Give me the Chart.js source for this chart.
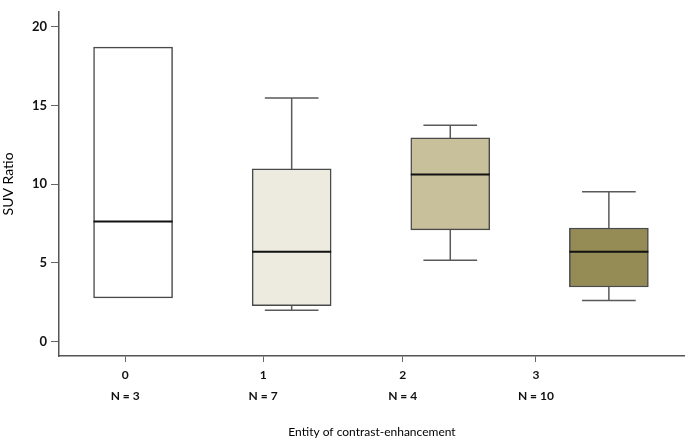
<!DOCTYPE html>
<html>
<head>
<meta charset="utf-8">
<script src="https://cdn.jsdelivr.net/npm/chart.js@4"></script>
<style>
  html, body { margin: 0; padding: 0; background: #fff; }
  #wrap { width: 685px; height: 441px; }
</style>
</head>
<body>
<div id="wrap"><canvas id="box"></canvas></div>
<script>
// values
const categories = ['0', '1', '2', '3'];
const nLabels = ['N = 3', 'N = 7', 'N = 4', 'N = 10'];
const whiskerLow = [2.77, 1.99, 5.16, 2.60];
const q1 = [2.77, 2.27, 7.09, 3.46];
const median = [7.62, 5.70, 10.61, 5.70];
const q3 = [18.70, 10.96, 12.93, 7.21];
const whiskerHigh = [18.70, 15.47, 13.73, 9.51];
const boxColors = ['#ffffff', '#edebe0', '#c8c09b', '#958c55'];

// the category labels sit a bit left of the boxes in the original
const tickAt = [-0.05, 0.82, 1.70, 2.54];

const FONT = 'Lato, "Open Sans", sans-serif';

// whiskers + median lines, drawn on top of the floating bars
const boxPlotPlugin = {
    id: 'boxPlot',
    afterDatasetsDraw: (chart) => {
        const { ctx, scales: { y } } = chart;
        const meta = chart.getDatasetMeta(0);
        ctx.save();
        meta.data.forEach((bar, i) => {
            const xc = bar.x;
            const half = bar.width / 2;
            const cap = bar.width * 0.34;
            ctx.strokeStyle = '#5a5a5a';
            ctx.lineWidth = 1.5;
            if (whiskerHigh[i] > q3[i]) {
                const yTop = y.getPixelForValue(whiskerHigh[i]);
                ctx.beginPath();
                ctx.moveTo(xc, y.getPixelForValue(q3[i]));
                ctx.lineTo(xc, yTop);
                ctx.moveTo(xc - cap, yTop);
                ctx.lineTo(xc + cap, yTop);
                ctx.stroke();
            }
            if (whiskerLow[i] < q1[i]) {
                const yBot = y.getPixelForValue(whiskerLow[i]);
                ctx.beginPath();
                ctx.moveTo(xc, y.getPixelForValue(q1[i]));
                ctx.lineTo(xc, yBot);
                ctx.moveTo(xc - cap, yBot);
                ctx.lineTo(xc + cap, yBot);
                ctx.stroke();
            }
            const yMed = y.getPixelForValue(median[i]);
            ctx.strokeStyle = '#111';
            ctx.lineWidth = 2;
            ctx.beginPath();
            ctx.moveTo(xc - half, yMed);
            ctx.lineTo(xc + half, yMed);
            ctx.stroke();
        });
        ctx.restore();
    }
};

const ctx = document.getElementById('box').getContext('2d');
new Chart(ctx, {
    type: 'bar',
    data: {
        datasets: [{
            data: categories.map((c, i) => ({ x: i, y: [q1[i], q3[i]] })),
            backgroundColor: boxColors,
            borderColor: '#4a4a4a',
            borderWidth: 1.5,
            borderSkipped: false,
            barThickness: 79
        }]
    },
    plugins: [boxPlotPlugin],
    options: {
        responsive: true,
        maintainAspectRatio: false,
        animation: false,
        layout: { padding: 0 },
        plugins: {
            legend: { display: false },
            tooltip: { enabled: false }
        },
        scales: {
            x: {
                type: 'linear',
                offset: false,
                min: -0.467,
                max: 3.48,
                afterBuildTicks: (axis) => {
                    axis.ticks = tickAt.map(v => ({ value: v }));
                },
                afterFit: (axis) => { axis.height = 85; },
                ticks: {
                    autoSkip: false,
                    maxRotation: 0,
                    padding: 3,
                    color: '#111',
                    font: { family: FONT, size: 12, weight: 'bold', lineHeight: 1.75 },
                    callback: (v, i) => [categories[i], nLabels[i]]
                },
                grid: {
                    offset: false,
                    drawOnChartArea: false,
                    drawTicks: true,
                    tickLength: 6,
                    color: '#666'
                },
                border: { display: true, color: '#555', width: 1.5 },
                title: {
                    display: true,
                    text: 'Entity of contrast-enhancement',
                    color: '#000',
                    font: { family: FONT, size: 12 },
                    padding: { top: 0, bottom: 2 }
                }
            },
            y: {
                min: -0.92,
                max: 20.94,
                afterBuildTicks: (axis) => {
                    axis.ticks = [0, 5, 10, 15, 20].map(v => ({ value: v }));
                },
                afterFit: (axis) => { axis.width = 59; },
                ticks: {
                    padding: 4,
                    color: '#111',
                    font: { family: FONT, size: 13, weight: 'bold' }
                },
                grid: {
                    drawOnChartArea: false,
                    drawTicks: true,
                    tickLength: 8,
                    color: '#666'
                },
                border: { display: true, color: '#555', width: 1.5 },
                title: {
                    display: true,
                    text: 'SUV Ratio',
                    color: '#000',
                    font: { family: FONT, size: 14 },
                    padding: { top: 0, bottom: 0 }
                }
            }
        }
    }
});
</script>
</body>
</html>
